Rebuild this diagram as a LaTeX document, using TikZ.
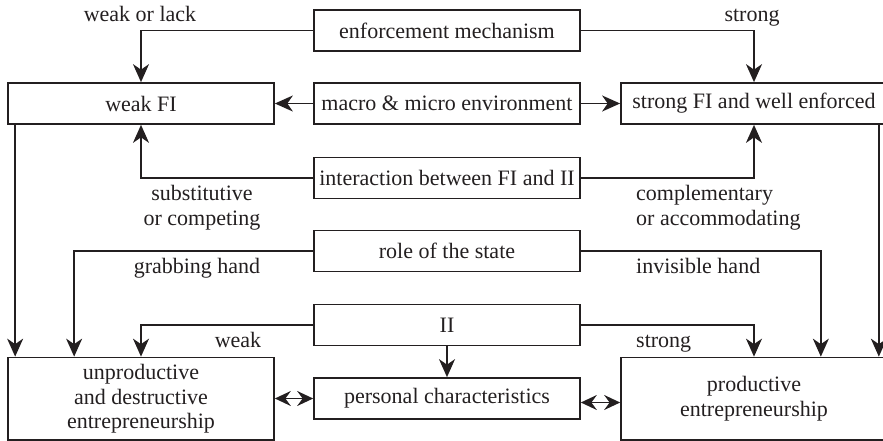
\documentclass[tikz,border=0pt]{standalone}
\usepackage{fontspec}
\setmainfont{Liberation Serif}
\usetikzlibrary{arrows.meta}
\definecolor{ink}{RGB}{35,31,32}
\begin{document}
\begin{tikzpicture}[x=1pt,y=-1pt,
  every node/.style={font=\fontsize{22}{24.5}\selectfont, text=ink},
  box/.style={draw=ink, line width=1.7pt, minimum width=266pt, minimum height=41pt, inner sep=0pt, align=center},
  bigbox/.style={box, minimum height=82.5pt},
  lbl/.style={inner sep=0pt},
  conn/.style={draw=ink, line width=1.7pt},
  arr/.style={conn, -{Stealth[length=18pt,width=16pt,inset=5.5pt]}},
  darr/.style={conn, {Stealth[length=16pt,width=15pt,inset=5.5pt]}-{Stealth[length=16pt,width=15pt,inset=5.5pt]}}
]
\useasboundingbox (0,0) rectangle (883,441);

\node[box] (enf) at (447,30.5) {enforcement mechanism};
\node[box] (weakFI) at (141,103.5) {weak FI};
\node[box] (macro) at (447,103.5) {macro \& micro environment};
\node[box] (strongFI) at (754,103.5) {strong FI and well enforced};
\node[box] (inter) at (447,178) {interaction between FI and II};
\node[box] (role) at (447,251) {role of the state};
\node[box] (II) at (447,325) {II};
\node[box] (pers) at (447,398.5) {personal characteristics};
\node[bigbox] (unprod) at (141,398.75) {unproductive\\and destructive\\entrepreneurship};
\node[bigbox] (prod) at (754,398.75) {productive\\entrepreneurship};

% labels
\node[lbl, anchor=base] (l1) at (140,22) {weak or lack};
\node[lbl, anchor=base] (l2) at (752,22) {strong};
\node[lbl, anchor=base] (l3) at (202,200) {substitutive};
\node[lbl, anchor=base] (l4) at (202,225) {or competing};
\node[lbl, anchor=base west] (l5) at (636,200) {complementary};
\node[lbl, anchor=base west] (l6) at (636,225) {or accommodating};
\node[lbl, anchor=base] (l7) at (197,273) {grabbing hand};
\node[lbl, anchor=base west] (l8) at (636,273) {invisible hand};
\node[lbl, anchor=base] (l9) at (238,347) {weak};
\node[lbl, anchor=base west] (l10) at (636,347) {strong};

% connectors
\draw[arr] (enf.west) -| (weakFI.north);
\draw[arr] (enf.east) -| (strongFI.north);
\draw[arr] (macro.west) -- (weakFI.east);
\draw[arr] (macro.east) -- (strongFI.west);
\draw[arr] (inter.west) -| (weakFI.south);
\draw[arr] (inter.east) -| (strongFI.south);
\draw[arr] (role.west) -| ([xshift=67pt]unprod.north west);
\draw[arr] (role.east) -| ([xshift=-67pt]prod.north east);
\draw[arr] ([xshift=8pt]weakFI.south west) -- ([xshift=8pt]unprod.north west);
\draw[arr] ([xshift=-9pt]strongFI.south east) -- ([xshift=-9pt]prod.north east);
\draw[arr] (II.west) -| (unprod.north);
\draw[arr] (II.east) -| (prod.north);
\draw[arr] (II.south) -- (pers.north);
\draw[darr] (unprod.east |- pers.west) -- (pers.west);
\draw[darr] ([yshift=-4pt]pers.east) -- ([yshift=-4pt]pers.east -| prod.west);
\end{tikzpicture}
\end{document}
